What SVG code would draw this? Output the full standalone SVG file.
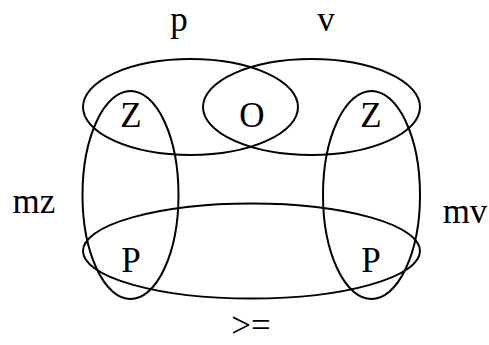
<svg xmlns="http://www.w3.org/2000/svg" width="489" height="345" viewBox="0 0 489 345">
<style>
.s{fill:none;stroke:#000;stroke-width:2}
.t{font-family:'Liberation Serif','Times New Roman','DejaVu Serif',serif;font-size:35px;fill:#000;text-anchor:middle}
</style>
<rect width="489" height="345" fill="#fff"/>
<g id="edges">
<ellipse id="set-p" class="s" cx="190.5" cy="107" rx="107.5" ry="48"/>
<ellipse id="set-v" class="s" cx="311.5" cy="107" rx="108.5" ry="48"/>
<ellipse id="set-mz" class="s" cx="130.5" cy="195" rx="48" ry="104"/>
<ellipse id="set-mv" class="s" cx="371.5" cy="195" rx="48.5" ry="104"/>
<ellipse id="set-ge" class="s" cx="251.5" cy="251" rx="168.5" ry="47.5"/>
</g>
<g id="labels">
<text class="t" x="179" y="31">p</text>
<text class="t" x="326" y="31">v</text>
<text class="t" x="34" y="213">mz</text>
<text class="t" x="465" y="223">mv</text>
<text class="t" x="251" y="337">&gt;=</text>
</g>
<g id="n-z1"><text class="t" x="131" y="127">Z</text></g>
<g id="n-o"><text class="t" x="252" y="127">O</text></g>
<g id="n-z2"><text class="t" x="371" y="127">Z</text></g>
<g id="n-p1"><text class="t" x="131" y="272">P</text></g>
<g id="n-p2"><text class="t" x="371" y="272">P</text></g>
</svg>
